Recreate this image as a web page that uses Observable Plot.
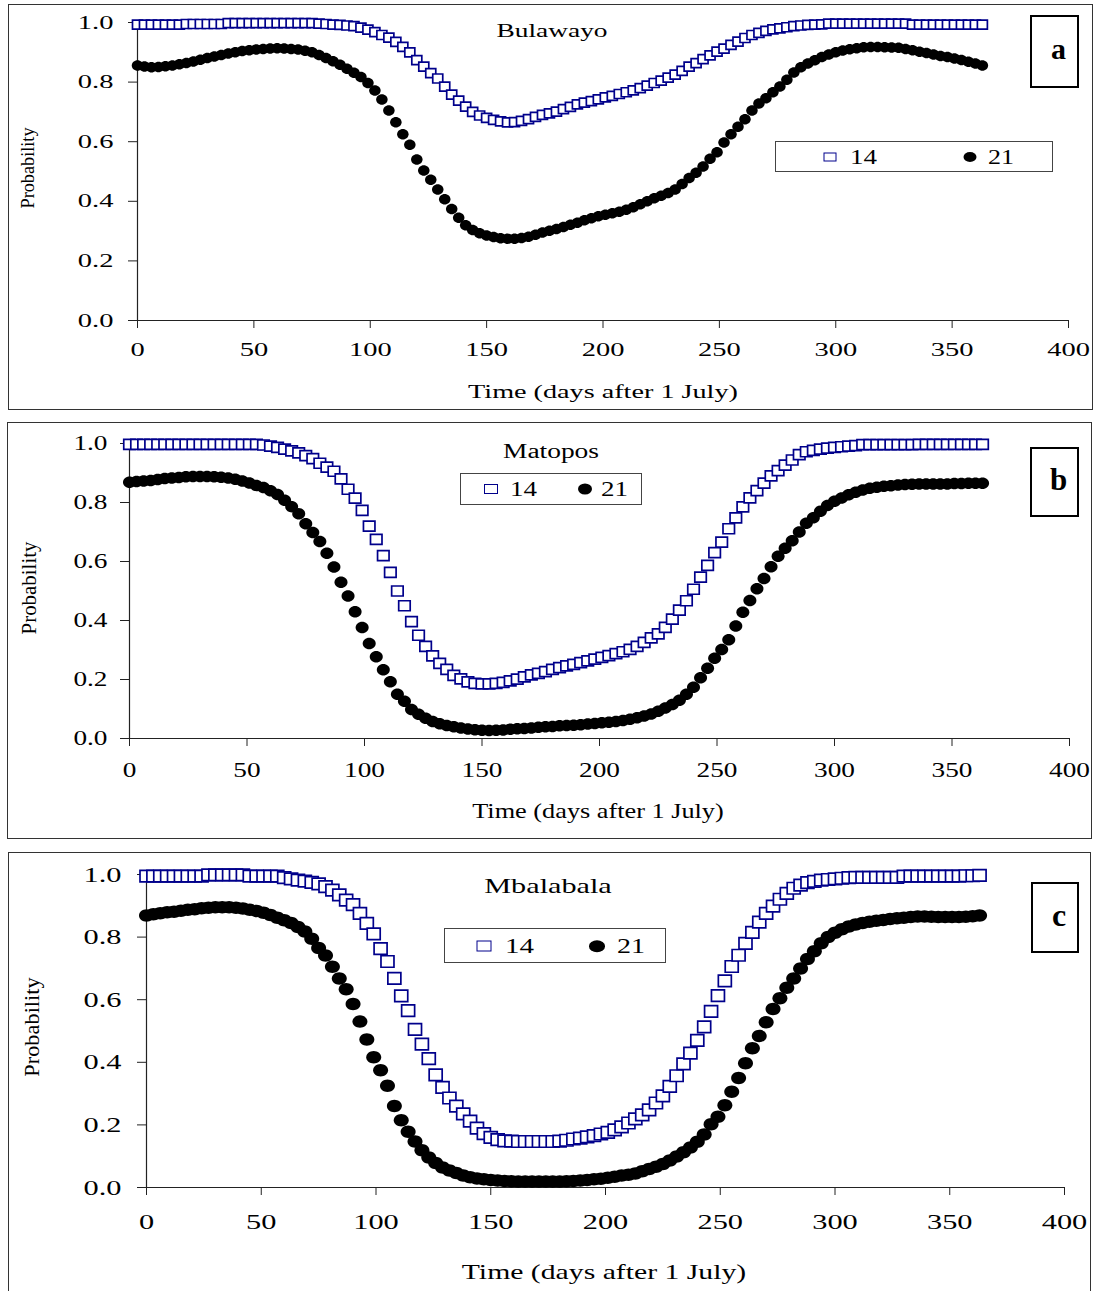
<!DOCTYPE html>
<html>
<head>
<meta charset="utf-8">
<script src="https://cdn.jsdelivr.net/npm/d3@7"></script>
<script src="https://cdn.jsdelivr.net/npm/@observablehq/plot@0.6"></script>
<style>
  html, body { margin: 0; padding: 0; background: #fff; }
  #page { position: relative; width: 1094px; height: 1291px; overflow: hidden; background: #fff;
          font-family: "Liberation Serif", "Times New Roman", serif; color: #000; }
  .frame { position: absolute; box-sizing: border-box; border: 1.5px solid #333; }
  .abs { position: absolute; white-space: nowrap; line-height: 1; }
  .legend { position: absolute; box-sizing: border-box; border: 1px solid #444; background: #fff; }
  .tag { position: absolute; box-sizing: border-box; border: 2px solid #000; background: #fff;
         display: flex; align-items: center; justify-content: center; font-weight: bold; line-height: 1;
         padding-left: 8px; padding-bottom: 6px; }
  .sq { position: absolute; box-sizing: border-box; border: 1.7px solid #00008b; background: #fff; transform: translate(-50%, -50%); }
  .ci { position: absolute; border-radius: 50%; background: #000; transform: translate(-50%, -50%); }
  .plot { position: absolute; }
  .plot svg { overflow: visible; }
</style>
</head>
<body>
<div id="page"></div>
<script>
// ---------------- DATA ----------------
// sampling days (every 3 days after 1 July)
const days = d3.range(0, 366, 3); // 0 .. 363

const xTicks = [0, 50, 100, 150, 200, 250, 300, 350, 400];
const yTicks = [0, 0.2, 0.4, 0.6, 0.8, 1.0];
const seriesNames = ["14", "21"];
const stations = ["Bulawayo", "Matopos", "Mbalabala"];
const panelTags = ["a", "b", "c"];
const xLabel = "Time (days after 1 July)";
const yLabel = "Probability";

// (a) Bulawayo
const bulawayo14 = [
  0.993,0.993,0.993,0.993,0.993,0.993,0.993,0.995,0.995,0.995,
  0.995,0.995,0.995,0.998,0.998,0.998,0.998,0.998,0.998,0.998,
  0.998,0.998,0.998,0.998,0.998,0.998,0.996,0.995,0.993,0.992,
  0.990,0.988,0.983,0.976,0.968,0.958,0.949,0.935,0.918,0.900,
  0.874,0.852,0.830,0.812,0.785,0.758,0.738,0.718,0.700,0.688,
  0.680,0.673,0.668,0.665,0.666,0.670,0.676,0.683,0.690,0.695,
  0.701,0.709,0.717,0.725,0.731,0.736,0.742,0.749,0.754,0.760,
  0.766,0.772,0.780,0.788,0.797,0.805,0.815,0.825,0.838,0.852,
  0.864,0.877,0.890,0.902,0.912,0.925,0.936,0.948,0.958,0.965,
  0.972,0.977,0.980,0.984,0.988,0.990,0.992,0.993,0.994,0.996,
  0.996,0.996,0.996,0.996,0.996,0.996,0.996,0.996,0.996,0.996,
  0.996,0.993,0.993,0.993,0.993,0.993,0.993,0.993,0.993,0.993,
  0.993,0.993
];
const bulawayo21 = [
  0.856,0.852,0.850,0.851,0.853,0.856,0.860,0.864,0.869,0.875,
  0.881,0.886,0.891,0.896,0.900,0.904,0.907,0.909,0.911,0.913,
  0.914,0.913,0.911,0.909,0.905,0.900,0.891,0.881,0.870,0.858,
  0.845,0.831,0.817,0.797,0.772,0.742,0.705,0.665,0.625,0.590,
  0.540,0.503,0.472,0.440,0.407,0.374,0.345,0.320,0.304,0.293,
  0.285,0.280,0.276,0.274,0.274,0.277,0.281,0.288,0.295,0.301,
  0.307,0.314,0.321,0.328,0.336,0.343,0.350,0.355,0.360,0.365,
  0.372,0.380,0.390,0.400,0.410,0.419,0.428,0.440,0.458,0.478,
  0.496,0.517,0.543,0.565,0.597,0.625,0.650,0.675,0.705,0.728,
  0.746,0.766,0.785,0.808,0.832,0.850,0.862,0.873,0.884,0.893,
  0.900,0.906,0.910,0.914,0.917,0.918,0.918,0.917,0.916,0.915,
  0.911,0.907,0.902,0.898,0.893,0.888,0.884,0.879,0.874,0.868,
  0.862,0.856
];

// (b) Matopos
const matopos14 = [
  0.997,0.997,0.997,0.997,0.997,0.997,0.997,0.997,0.997,0.997,
  0.997,0.997,0.997,0.997,0.997,0.997,0.997,0.997,0.997,0.995,
  0.991,0.987,0.981,0.975,0.968,0.959,0.949,0.933,0.920,0.906,
  0.880,0.845,0.815,0.773,0.720,0.675,0.620,0.563,0.500,0.450,
  0.396,0.350,0.312,0.280,0.255,0.234,0.214,0.202,0.192,0.187,
  0.185,0.185,0.187,0.190,0.195,0.201,0.209,0.216,0.221,0.227,
  0.234,0.240,0.246,0.251,0.257,0.263,0.269,0.275,0.281,0.288,
  0.294,0.302,0.312,0.326,0.341,0.355,0.377,0.405,0.435,0.467,
  0.506,0.547,0.587,0.630,0.666,0.711,0.748,0.785,0.816,0.840,
  0.866,0.890,0.908,0.927,0.944,0.962,0.972,0.977,0.981,0.984,
  0.987,0.989,0.991,0.993,0.996,0.996,0.996,0.996,0.996,0.996,
  0.996,0.996,0.997,0.997,0.997,0.997,0.997,0.997,0.997,0.997,
  0.997,0.997
];
const matopos21 = [
  0.869,0.871,0.873,0.875,0.878,0.881,0.883,0.885,0.887,0.888,
  0.888,0.888,0.887,0.886,0.883,0.879,0.873,0.866,0.858,0.851,
  0.840,0.827,0.808,0.786,0.762,0.728,0.698,0.668,0.628,0.581,
  0.530,0.483,0.430,0.376,0.322,0.277,0.233,0.192,0.150,0.126,
  0.098,0.082,0.069,0.058,0.050,0.044,0.040,0.036,0.032,0.030,
  0.028,0.027,0.028,0.029,0.031,0.033,0.034,0.036,0.038,0.040,
  0.041,0.043,0.044,0.045,0.047,0.049,0.051,0.053,0.055,0.058,
  0.061,0.065,0.070,0.076,0.083,0.092,0.103,0.115,0.130,0.150,
  0.174,0.206,0.238,0.272,0.302,0.335,0.381,0.428,0.468,0.508,
  0.542,0.582,0.618,0.645,0.670,0.700,0.730,0.748,0.770,0.790,
  0.804,0.815,0.826,0.835,0.842,0.848,0.852,0.855,0.857,0.859,
  0.861,0.862,0.863,0.863,0.863,0.863,0.863,0.864,0.864,0.865,
  0.865,0.865
];

// (c) Mbalabala
const mbalabala14 = [
  0.995,0.995,0.995,0.995,0.995,0.995,0.995,0.995,0.995,0.999,
  0.999,0.999,0.999,0.999,0.999,0.995,0.995,0.995,0.995,0.995,
  0.990,0.986,0.982,0.979,0.975,0.970,0.961,0.950,0.935,0.918,
  0.904,0.876,0.844,0.810,0.763,0.722,0.668,0.612,0.565,0.505,
  0.458,0.412,0.360,0.320,0.286,0.260,0.235,0.212,0.190,0.172,
  0.160,0.153,0.149,0.148,0.147,0.147,0.147,0.147,0.147,0.147,
  0.148,0.151,0.155,0.158,0.162,0.166,0.171,0.176,0.184,0.194,
  0.206,0.219,0.232,0.248,0.270,0.293,0.323,0.357,0.395,0.429,
  0.470,0.513,0.563,0.613,0.660,0.706,0.742,0.780,0.815,0.848,
  0.876,0.899,0.921,0.940,0.956,0.966,0.974,0.978,0.982,0.984,
  0.986,0.988,0.990,0.991,0.991,0.991,0.991,0.991,0.991,0.991,
  0.995,0.995,0.995,0.995,0.995,0.995,0.995,0.995,0.995,0.996,
  0.996,0.997
];
const mbalabala21 = [
  0.869,0.873,0.876,0.879,0.881,0.884,0.887,0.889,0.892,0.894,
  0.895,0.895,0.895,0.894,0.891,0.887,0.883,0.878,0.871,0.862,
  0.854,0.845,0.832,0.818,0.795,0.765,0.741,0.705,0.668,0.633,
  0.586,0.530,0.473,0.416,0.375,0.325,0.260,0.215,0.178,0.147,
  0.119,0.096,0.078,0.064,0.054,0.046,0.038,0.033,0.029,0.026,
  0.024,0.022,0.021,0.020,0.019,0.019,0.019,0.019,0.019,0.019,
  0.019,0.020,0.021,0.022,0.024,0.026,0.028,0.031,0.034,0.038,
  0.041,0.045,0.052,0.059,0.066,0.075,0.086,0.099,0.113,0.128,
  0.146,0.169,0.202,0.226,0.263,0.306,0.350,0.397,0.445,0.484,
  0.528,0.570,0.605,0.638,0.668,0.700,0.730,0.755,0.780,0.800,
  0.814,0.825,0.834,0.840,0.845,0.849,0.852,0.855,0.858,0.860,
  0.862,0.864,0.866,0.866,0.865,0.864,0.864,0.864,0.864,0.865,
  0.867,0.869
];

const panelSeries = [
  [bulawayo14, bulawayo21],
  [matopos14, matopos21],
  [mbalabala14, mbalabala21]
];

// ---------------- LAYOUT (pixels, styling only) ----------------
// title/xl/yl: [cx, cy, fontSize, targetWidth]; sq/ci: marker [width, height]
const layout = [
  { frame:[8,4,1085,406], svg:[8,4,1085,405], m:[18,25,89,129], fs:19, tickScale:1.5, xPad:14, yPad:15,
    sq:[10,9], ci:[11.5,10.5], title:[552,30,19,111], xl:[603,391,19,270], yl:[28,168,18,81],
    legend:{box:[775,141,278,31], sq:[830,157,13,9], t14:[850,157,27], ci:[970,157,13,10], t21:[988,157,26], fs:20},
    tag:[1030,15,49,73,30] },
  { frame:[7,422,1085,417], svg:[7,422,1085,417], m:[21,23,101,122], fs:21, tickScale:1.3, xPad:16, yPad:13,
    sq:[11.5,10], ci:[13,11.5], title:[551,451,20,96], xl:[598,811,22,252], yl:[29,588,20,93],
    legend:{box:[460,473,182,32], sq:[491,489,14,10], t14:[510,489,27], ci:[585,489,14,11], t21:[601,489,27], fs:22},
    tag:[1030,447,49,70,31] },
  { frame:[8,852,1083,460], svg:[8,852,1083,439], m:[22,27,104,138], fs:22, tickScale:1.38, xPad:18, yPad:16,
    sq:[13,11.5], ci:[15,12.5], title:[548,886,21,128], xl:[604,1272,22,285], yl:[32,1027,21,99],
    legend:{box:[444,928,222,35], sq:[484,946,15,11], t14:[505,946,29], ci:[597,946,16,11.5], t21:[617,946,28], fs:22},
    tag:[1031,882,48,71,32] }
];

// marker shapes: the reference's markers are slightly wider than tall
const rectSymbol = (w, h) => ({draw(ctx) {
  ctx.moveTo(-w/2, -h/2); ctx.lineTo(w/2, -h/2); ctx.lineTo(w/2, h/2); ctx.lineTo(-w/2, h/2); ctx.closePath();
}});
const ellipseSymbol = (w, h) => ({draw(ctx) {
  const a = w/2, b = h/2, k = 0.5523;
  ctx.moveTo(a, 0);
  ctx.bezierCurveTo(a, k*b, k*a, b, 0, b);
  ctx.bezierCurveTo(-k*a, b, -a, k*b, -a, 0);
  ctx.bezierCurveTo(-a, -k*b, -k*a, -b, 0, -b);
  ctx.bezierCurveTo(k*a, -b, a, -k*b, a, 0);
  ctx.closePath();
}});

// ---------------- DRAW ----------------
const page = document.getElementById("page");
function el(cls, css, text) {
  const d = document.createElement("div");
  d.className = cls;
  Object.assign(d.style, css);
  if (text != null) d.textContent = text;
  page.appendChild(d);
  return d;
}
function centredText(spec, text, rotate) {
  const d = el("abs", {left: spec[0]+"px", top: spec[1]+"px", fontSize: spec[2]+"px"}, text);
  const s = spec[3] / d.offsetWidth;
  d.style.transform = rotate
    ? `translate(-50%, -50%) rotate(-90deg) scaleX(${s})`
    : `translate(-50%, -50%) scaleX(${s})`;
  return d;
}
function leftText(pos, fs, text) {
  const d = el("abs", {left: pos[0]+"px", top: pos[1]+"px", fontSize: fs+"px"}, text);
  const s = pos[2] / d.offsetWidth;
  d.style.transformOrigin = "0 50%";
  d.style.transform = `translateY(-50%) scaleX(${s})`;
  return d;
}

layout.forEach((L, k) => {
  const [s14, s21] = panelSeries[k];
  const rows14 = days.map((d, i) => ({day: d, p: s14[i], series: seriesNames[0]}));
  const rows21 = days.map((d, i) => ({day: d, p: s21[i], series: seriesNames[1]}));

  el("frame", {left: L.frame[0]+"px", top: L.frame[1]+"px", width: L.frame[2]+"px", height: L.frame[3]+"px"});

  const chart = Plot.plot({
    width: L.svg[2], height: L.svg[3],
    marginTop: L.m[0], marginRight: L.m[1], marginBottom: L.m[2], marginLeft: L.m[3],
    x: {domain: [0, 400]},
    y: {domain: [0, 1]},
    style: {fontFamily: '"Liberation Serif", "Times New Roman", serif', fontSize: L.fs + "px",
            color: "#000", background: "transparent", overflow: "visible"},
    marks: [
      Plot.axisX({ticks: xTicks, tickSize: 8, tickPadding: L.xPad, label: null, fontSize: L.fs, stroke: "#222"}),
      Plot.axisY({ticks: yTicks, tickSize: 9, tickPadding: L.yPad, label: null, fontSize: L.fs,
                  tickFormat: d3.format(".1f"), stroke: "#222"}),
      Plot.ruleY([0], {stroke: "#222", strokeWidth: 1.2}),
      Plot.ruleX([0], {stroke: "#222", strokeWidth: 1.2}),
      Plot.dot(rows14, {x: "day", y: "p", symbol: rectSymbol(L.sq[0], L.sq[1]), r: 5,
                        fill: "white", stroke: "#00008b", strokeWidth: 1.7}),
      Plot.dot(rows21, {x: "day", y: "p", symbol: ellipseSymbol(L.ci[0], L.ci[1]), r: 5,
                        fill: "#000", stroke: "none"})
    ]
  });
  chart.querySelectorAll("text").forEach(t => {
    const tr = t.getAttribute("transform");
    if (tr && tr.includes("translate")) t.setAttribute("transform", tr + ` scale(${L.tickScale},1)`);
  });
  const holder = el("plot", {left: L.svg[0]+"px", top: L.svg[1]+"px", width: L.svg[2]+"px", height: L.svg[3]+"px"});
  holder.appendChild(chart);

  centredText(L.title, stations[k]);
  centredText(L.xl, xLabel);
  centredText(L.yl, yLabel, true);

  const g = L.legend;
  el("legend", {left: g.box[0]+"px", top: g.box[1]+"px", width: g.box[2]+"px", height: g.box[3]+"px"});
  el("sq", {left: g.sq[0]+"px", top: g.sq[1]+"px", width: g.sq[2]+"px", height: g.sq[3]+"px"});
  leftText(g.t14, g.fs, seriesNames[0]);
  el("ci", {left: g.ci[0]+"px", top: g.ci[1]+"px", width: g.ci[2]+"px", height: g.ci[3]+"px"});
  leftText(g.t21, g.fs, seriesNames[1]);

  el("tag", {left: L.tag[0]+"px", top: L.tag[1]+"px", width: L.tag[2]+"px", height: L.tag[3]+"px", fontSize: L.tag[4]+"px"}, panelTags[k]);
});
</script>
</body>
</html>
